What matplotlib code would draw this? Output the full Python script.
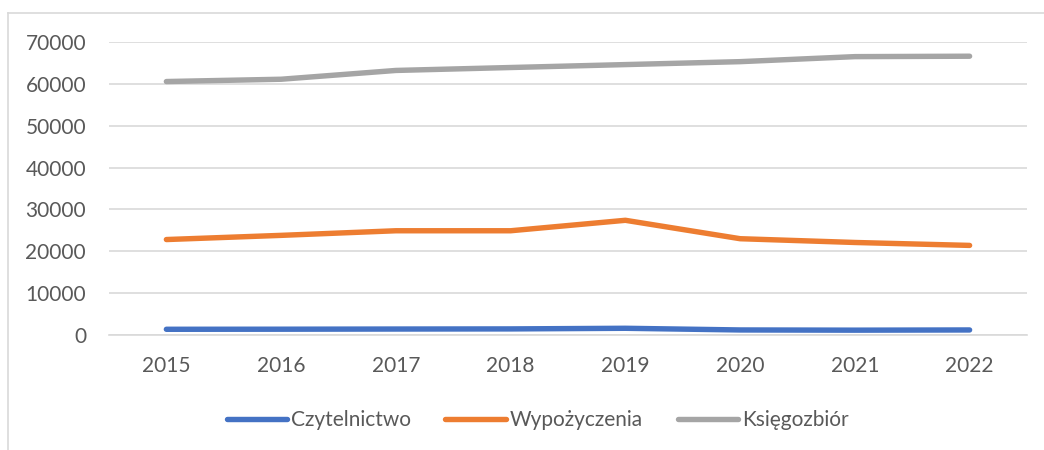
import matplotlib
matplotlib.use("Agg")
import matplotlib.pyplot as plt
from matplotlib.lines import Line2D

years = ["2015", "2016", "2017", "2018", "2019", "2020", "2021", "2022"]
czytelnictwo = [1360, 1380, 1420, 1450, 1600, 1200, 1150, 1200]
wypozyczenia = [22800, 23800, 24900, 24900, 27400, 23000, 22100, 21400]
ksiegozbior = [60550, 61100, 63200, 63900, 64600, 65300, 66500, 66600]

series = [("Czytelnictwo", czytelnictwo, "#4472C4"),
          ("Wypożyczenia", wypozyczenia, "#ED7D31"),
          ("Księgozbiór", ksiegozbior, "#A5A5A5")]

TXT = "#595959"
GRID = "#d9d9d9"

plt.rcParams["font.family"] = ["Lato", "DejaVu Sans"]

fig = plt.figure(figsize=(10.44, 4.5), dpi=100, facecolor="white")
ax = fig.add_axes([0.1044, 0.2556, 0.8793, 0.6511])

x = list(range(len(years)))
for name, vals, color in series:
    ax.plot(x, vals, color=color, lw=3.9, solid_capstyle="round",
            solid_joinstyle="round", label=name, zorder=3)

ax.set_xlim(-0.5, len(years) - 0.5)
ax.set_ylim(0, 70000)
ax.set_yticks(range(0, 70001, 10000))
ax.set_yticklabels([str(v) for v in range(0, 70001, 10000)])
ax.set_xticks(x)
ax.set_xticklabels(years)
ax.tick_params(length=0, colors=TXT, labelsize=15)
ax.tick_params(axis="y", pad=16.5)
ax.tick_params(axis="x", pad=15)
ax.grid(axis="y", color=GRID, lw=1.2)
ax.set_axisbelow(True)
for side in ("top", "right", "left"):
    ax.spines[side].set_visible(False)
ax.spines["bottom"].set_color(GRID)
ax.spines["bottom"].set_linewidth(1.2)

handles = [Line2D([], [], color=c, lw=3.9, solid_capstyle="round") for _, _, c in series]
leg = fig.legend(handles, [n for n, _, _ in series], loc="center",
                 bbox_to_anchor=(0.515, 0.067), ncol=3, frameon=False,
                 fontsize=15, handlelength=2.9, handletextpad=0.2,
                 columnspacing=1.65)
for t in leg.get_texts():
    t.set_color(TXT)

# chart frame (left and top edges visible)
fig.add_artist(Line2D([8 / 1044, 8 / 1044], [0, 1 - 13 / 450], color=GRID, lw=1.2))
fig.add_artist(Line2D([8 / 1044, 1], [1 - 13 / 450, 1 - 13 / 450], color=GRID, lw=1.2))

fig.savefig("out.png", dpi=100, facecolor="white")
